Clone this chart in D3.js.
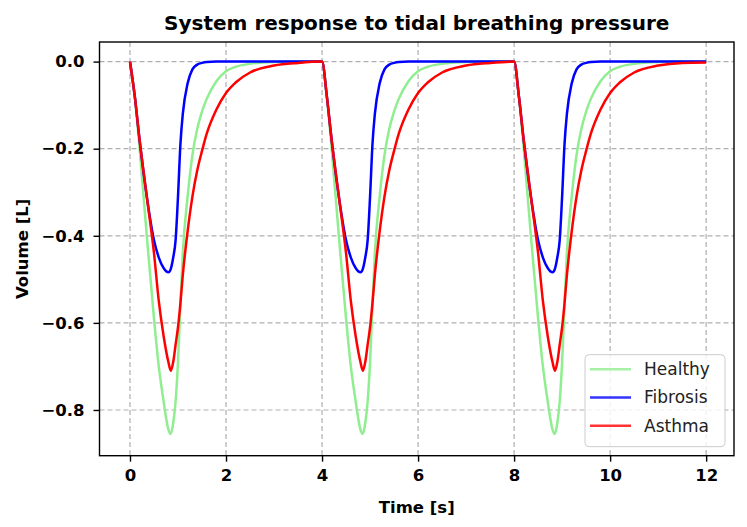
<!DOCTYPE html>
<html>
<head>
<meta charset="utf-8">
<script src="https://cdn.jsdelivr.net/npm/d3@7"></script>
<style>
  body { margin: 0; background: #fff; }
  svg { display: block; font-family: "DejaVu Sans", sans-serif; }
</style>
</head>
<body>
<script>
// time samples [s], three breaths of 4 s
const times = [
  0, 0.1, 0.2, 0.35, 0.5, 0.6, 0.7, 0.8, 0.85, 0.9, 0.95, 1.0, 1.05, 1.1, 1.2, 1.3, 1.4, 1.5, 1.6, 1.8, 2.0, 2.2, 2.5, 3.0, 3.5,
  4, 4.1, 4.2, 4.35, 4.5, 4.6, 4.7, 4.8, 4.85, 4.9, 4.95, 5.0, 5.05, 5.1, 5.2, 5.3, 5.4, 5.5, 5.6, 5.8, 6.0, 6.2, 6.5, 7.0, 7.5,
  8, 8.1, 8.2, 8.35, 8.5, 8.6, 8.7, 8.8, 8.85, 8.9, 8.95, 9.0, 9.05, 9.1, 9.2, 9.3, 9.4, 9.5, 9.6, 9.8, 10.0, 10.2, 10.5, 11.0, 11.5,
  12
];

// volume [L]
const healthy = [
  0, -0.08, -0.2, -0.4, -0.59, -0.7, -0.78, -0.845, -0.855, -0.83, -0.78, -0.69, -0.56, -0.44, -0.31, -0.215, -0.155, -0.115, -0.085, -0.045, -0.022, -0.012, -0.005, -0.001, 0,
  0, -0.08, -0.2, -0.4, -0.59, -0.7, -0.78, -0.845, -0.855, -0.83, -0.78, -0.69, -0.56, -0.44, -0.31, -0.215, -0.155, -0.115, -0.085, -0.045, -0.022, -0.012, -0.005, -0.001, 0,
  0, -0.08, -0.2, -0.4, -0.59, -0.7, -0.78, -0.845, -0.855, -0.83, -0.78, -0.69, -0.56, -0.44, -0.31, -0.215, -0.155, -0.115, -0.085, -0.045, -0.022, -0.012, -0.005, -0.001, 0,
  0
];
const fibrosis = [
  0, -0.08, -0.18, -0.31, -0.41, -0.45, -0.474, -0.484, -0.476, -0.45, -0.41, -0.31, -0.19, -0.12, -0.05, -0.018, -0.007, -0.003, -0.001, 0, 0, 0, 0, 0, 0,
  0, -0.08, -0.18, -0.31, -0.41, -0.45, -0.474, -0.484, -0.476, -0.45, -0.41, -0.31, -0.19, -0.12, -0.05, -0.018, -0.007, -0.003, -0.001, 0, 0, 0, 0, 0, 0,
  0, -0.08, -0.18, -0.31, -0.41, -0.45, -0.474, -0.484, -0.476, -0.45, -0.41, -0.31, -0.19, -0.12, -0.05, -0.018, -0.007, -0.003, -0.001, 0, 0, 0, 0, 0, 0,
  0
];
const asthma = [
  0, -0.08, -0.18, -0.31, -0.44, -0.55, -0.63, -0.69, -0.71, -0.69, -0.65, -0.61, -0.555, -0.49, -0.39, -0.31, -0.25, -0.205, -0.165, -0.11, -0.072, -0.048, -0.025, -0.009, -0.003,
  0, -0.08, -0.18, -0.31, -0.44, -0.55, -0.63, -0.69, -0.71, -0.69, -0.65, -0.61, -0.555, -0.49, -0.39, -0.31, -0.25, -0.205, -0.165, -0.11, -0.072, -0.048, -0.025, -0.009, -0.003,
  0, -0.08, -0.18, -0.31, -0.44, -0.55, -0.63, -0.69, -0.71, -0.69, -0.65, -0.61, -0.555, -0.49, -0.39, -0.31, -0.25, -0.205, -0.165, -0.11, -0.072, -0.048, -0.025, -0.009, -0.003,
  -0.002
];

const seriesNames = ["Healthy", "Fibrosis", "Asthma"];
const seriesColors = ["lightgreen", "blue", "red"];
const xTicks = [0, 2, 4, 6, 8, 10, 12];
const yTicks = [0, -0.2, -0.4, -0.6, -0.8];

// layout
const W = 747, H = 527;
const margin = {top: 42, right: 13, bottom: 71.3, left: 99.5};
const width = W - margin.left - margin.right;
const height = H - margin.top - margin.bottom;

const svg = d3.select("body").append("svg")
  .attr("width", W)
  .attr("height", H);

const g = svg.append("g")
  .attr("transform", "translate(" + margin.left + "," + margin.top + ")");

const x = d3.scaleLinear().domain([-0.635, 12.58]).range([0, width]);
const y = d3.scaleLinear().domain([-0.905, 0.045]).range([height, 0]);

// grid
g.append("g").selectAll("line").data(xTicks).join("line")
  .attr("x1", d => x(d)).attr("x2", d => x(d))
  .attr("y1", 0).attr("y2", height)
  .attr("stroke", "#b0b0b0").attr("stroke-width", 1.2)
  .attr("stroke-dasharray", "5,3");
g.append("g").selectAll("line").data(yTicks).join("line")
  .attr("x1", 0).attr("x2", width)
  .attr("y1", d => y(d)).attr("y2", d => y(d))
  .attr("stroke", "#b0b0b0").attr("stroke-width", 1.2)
  .attr("stroke-dasharray", "5,3");

// lines
const allSeries = [healthy, fibrosis, asthma];
const line = d3.line()
  .x(d => x(d[0]))
  .y(d => y(d[1]))
  .curve(d3.curveMonotoneX);

allSeries.forEach(function (vals, i) {
  g.append("path")
    .datum(times.map((t, k) => [t, vals[k]]))
    .attr("fill", "none")
    .attr("stroke", seriesColors[i])
    .attr("stroke-width", 2.5)
    .attr("stroke-linejoin", "round")
    .attr("d", line);
});

// axes
const xAxis = g.append("g")
  .attr("transform", "translate(0," + height + ")")
  .call(d3.axisBottom(x).tickValues(xTicks).tickFormat(d3.format("d")).tickSize(6).tickPadding(8));
const yAxis = g.append("g")
  .call(d3.axisLeft(y).tickValues(yTicks).tickFormat(d3.format(".1f")).tickSize(6).tickPadding(9));

[xAxis, yAxis].forEach(function (ax) {
  ax.select(".domain").remove();
  ax.selectAll(".tick line").attr("stroke", "#000").attr("stroke-width", 1.4);
  ax.selectAll(".tick text")
    .attr("fill", "#000")
    .style("font-family", "DejaVu Sans")
    .style("font-size", "16.5px")
    .style("font-weight", "bold");
});

// frame
g.append("rect")
  .attr("x", 0).attr("y", 0)
  .attr("width", width).attr("height", height)
  .attr("fill", "none")
  .attr("stroke", "#000")
  .attr("stroke-width", 1.4);

// title and labels
svg.append("text")
  .attr("x", margin.left + width / 2)
  .attr("y", 30)
  .attr("text-anchor", "middle")
  .style("font-size", "20px")
  .style("font-weight", "bold")
  .text("System response to tidal breathing pressure");

svg.append("text")
  .attr("x", margin.left + width / 2)
  .attr("y", 513)
  .attr("text-anchor", "middle")
  .style("font-size", "16.5px")
  .style("font-weight", "bold")
  .text("Time [s]");

svg.append("text")
  .attr("transform", "translate(22," + (margin.top + height / 2) + ") rotate(-90)")
  .attr("text-anchor", "middle")
  .attr("dominant-baseline", "central")
  .style("font-size", "16.5px")
  .style("font-weight", "bold")
  .text("Volume [L]");

// legend
const legend = g.append("g")
  .attr("transform", "translate(" + (width - 149) + "," + (height - 101) + ")");
legend.append("rect")
  .attr("width", 140).attr("height", 92)
  .attr("rx", 4)
  .attr("fill", "#fff").attr("fill-opacity", 0.8)
  .attr("stroke", "#cccccc").attr("stroke-width", 1);
seriesNames.forEach(function (name, i) {
  const ly = 14.5 + i * 28.3;
  legend.append("line")
    .attr("x1", 5).attr("x2", 46)
    .attr("y1", ly).attr("y2", ly)
    .attr("stroke", seriesColors[i])
    .attr("stroke-opacity", 0.8)
    .attr("stroke-width", 2.5);
  legend.append("text")
    .attr("x", 59).attr("y", ly)
    .attr("dominant-baseline", "central")
    .attr("fill", "#222")
    .style("font-size", "17px")
    .text(name);
});
</script>
</body>
</html>
